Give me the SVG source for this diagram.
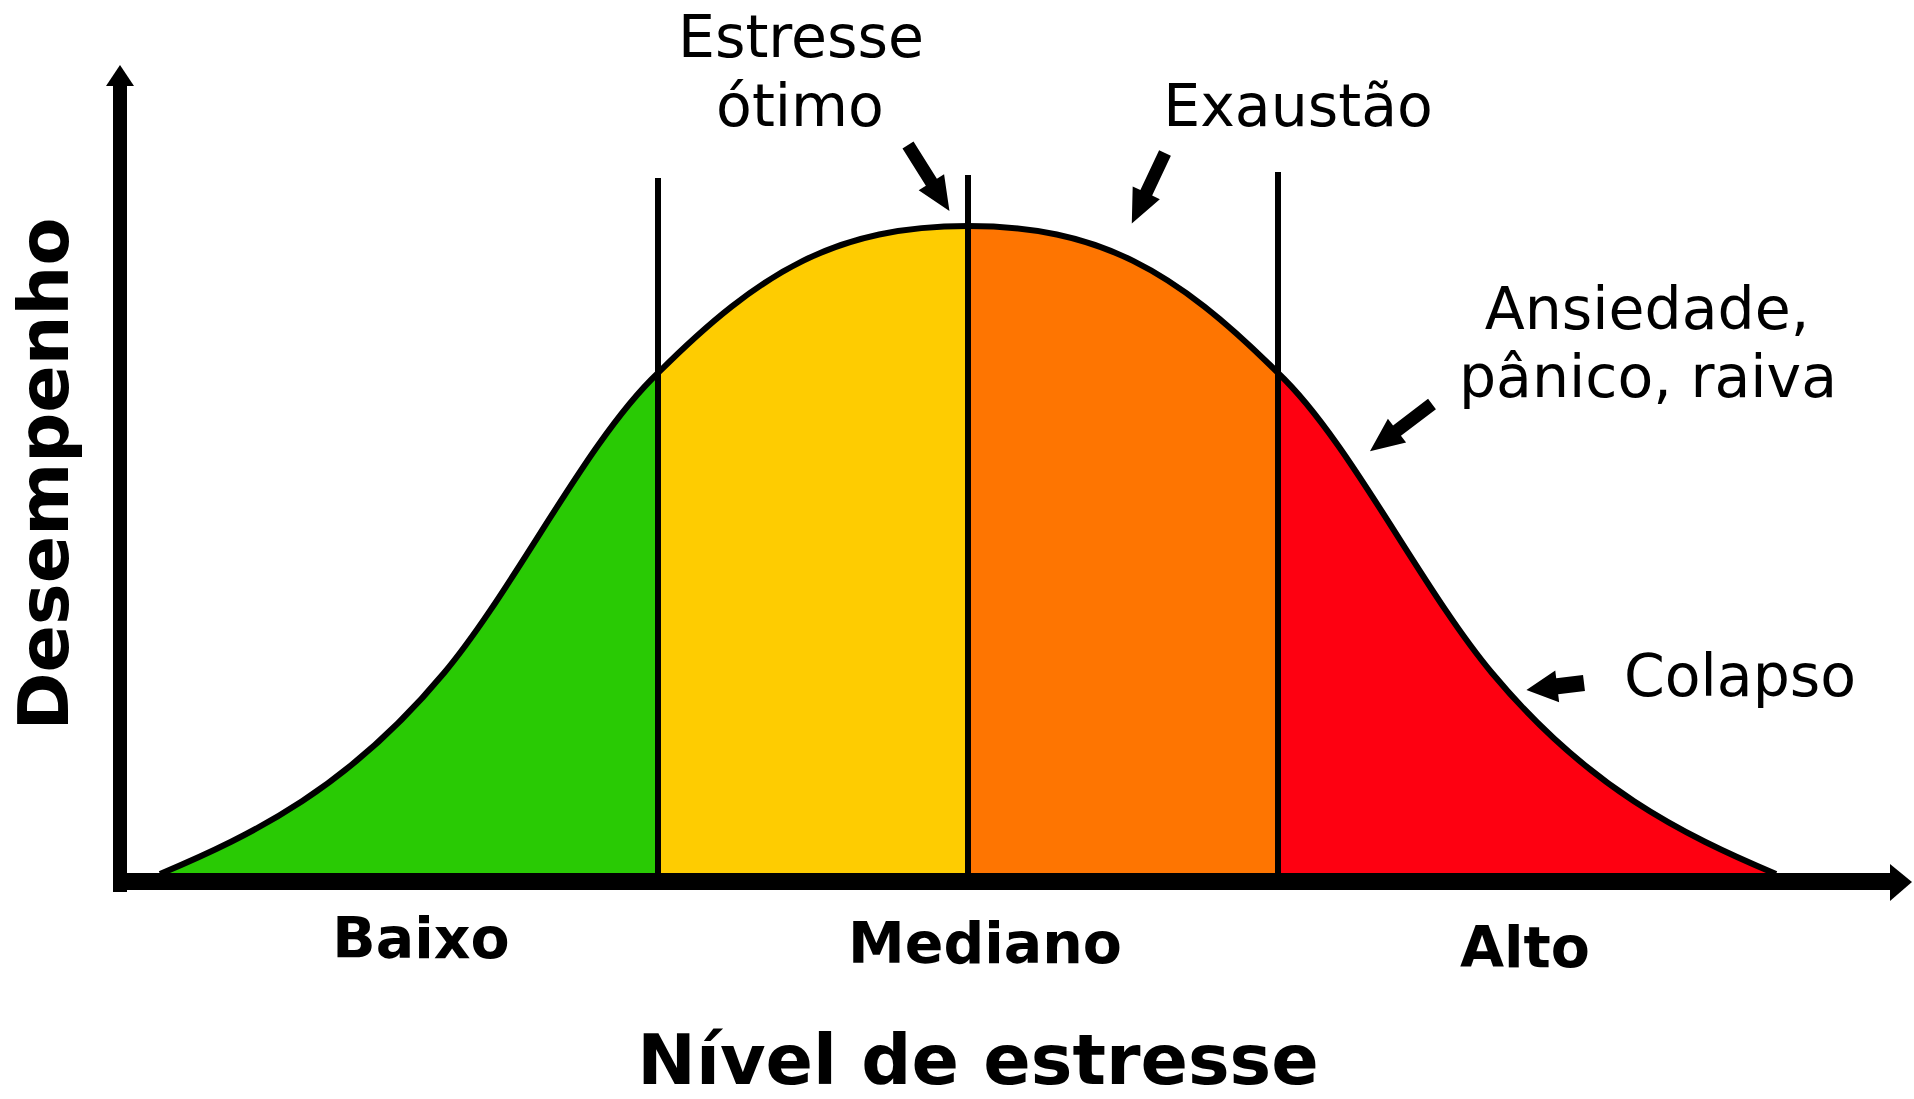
<svg xmlns="http://www.w3.org/2000/svg" xmlns:xlink="http://www.w3.org/1999/xlink" width="1914" height="1099" viewBox="0 0 1914 1099">
<style>
.lbl{font-family:"DejaVu Sans","Liberation Sans",sans-serif;font-size:58.5px;fill:#000;text-anchor:middle}
.axl{font-family:"DejaVu Sans","Liberation Sans",sans-serif;font-weight:bold;font-size:57px;fill:#000;text-anchor:middle}
.curve{fill:none;stroke:#000;stroke-width:6;stroke-linejoin:round}
.div{stroke:#000;stroke-width:6}
.ptr{fill:#000}
</style>
<defs>
<path id="fat" d="M0,-6.5 L44,-6.5 L44,-15 L78,0 L44,15 L44,6.5 L0,6.5 Z"/>
<path id="fat-short" d="M0,-8 L27,-8 L27,-16 L58,0 L27,16 L27,8 L0,8 Z"/>
</defs>
<rect width="1914" height="1099" fill="#fff"/>
<g id="zones">
<path id="zone-baixo" fill="#29CA04" d="M160,874 C255,834 349,787 444,673 C515,588 587,440 658,373 L658,876 L160,876 Z"/>
<path id="zone-otimo" fill="#FECC01" d="M658,373 C761,270 838,226 968,226 L968,876 L658,876 Z"/>
<path id="zone-exaustao" fill="#FE7501" d="M968,226 C1098,226 1175,270 1278,373 L1278,876 L968,876 Z"/>
<path id="zone-alto" fill="#FE0011" d="M1278,373 C1349,440 1421,588 1492,673 C1587,787 1681,834 1776,874 L1776,876 L1278,876 Z"/>
</g>
<g id="dividers">
<line class="div" x1="658" y1="178" x2="658" y2="876"/>
<line class="div" x1="968" y1="175" x2="968" y2="876"/>
<line class="div" x1="1278" y1="172" x2="1278" y2="876"/>
</g>
<path id="curve" class="curve" d="M160,874 C255,834 349,787 444,673 C515,588 587,440 658,373 C761,270 838,226 968,226 C1098,226 1175,270 1278,373 C1349,440 1421,588 1492,673 C1587,787 1681,834 1776,874"/>
<g id="axes">
<rect x="113" y="82" width="14" height="810" fill="#000"/>
<polygon points="120,65 106,86 134,86" fill="#000"/>
<rect x="113" y="873" width="1780" height="17" fill="#000"/>
<polygon points="1890,864 1912,882 1890,901" fill="#000"/>
</g>
<g id="connectors">
<use class="ptr" xlink:href="#fat" href="#fat" transform="translate(908,145) rotate(57.9)"/>
<use class="ptr" xlink:href="#fat" href="#fat" transform="translate(1165,153) rotate(115.2)"/>
<use class="ptr" xlink:href="#fat" href="#fat" transform="translate(1432,404) rotate(142.7)"/>
<use class="ptr" xlink:href="#fat-short" href="#fat-short" transform="translate(1584,683) rotate(173)"/>
</g>
<g id="label-otimo"><text class="lbl" x="801" y="57">Estresse</text><text class="lbl" x="800" y="126">ótimo</text></g>
<g id="label-exaustao"><text class="lbl" x="1298" y="126">Exaustão</text></g>
<g id="label-ansiedade"><text class="lbl" x="1647" y="329">Ansiedade,</text><text class="lbl" x="1648" y="397">pânico, raiva</text></g>
<g id="label-colapso"><text class="lbl" x="1740" y="696">Colapso</text></g>
<g id="label-baixo"><text class="axl" x="421" y="958">Baixo</text></g>
<g id="label-mediano"><text class="axl" x="985" y="963">Mediano</text></g>
<g id="label-alto"><text class="axl" x="1525" y="967">Alto</text></g>
<g id="label-x"><text class="axl" x="978" y="1084" style="font-size:70px">Nível de estresse</text></g>
<g id="label-y"><text class="axl" transform="translate(68,474) rotate(-90)" style="font-size:70px">Desempenho</text></g>
</svg>
